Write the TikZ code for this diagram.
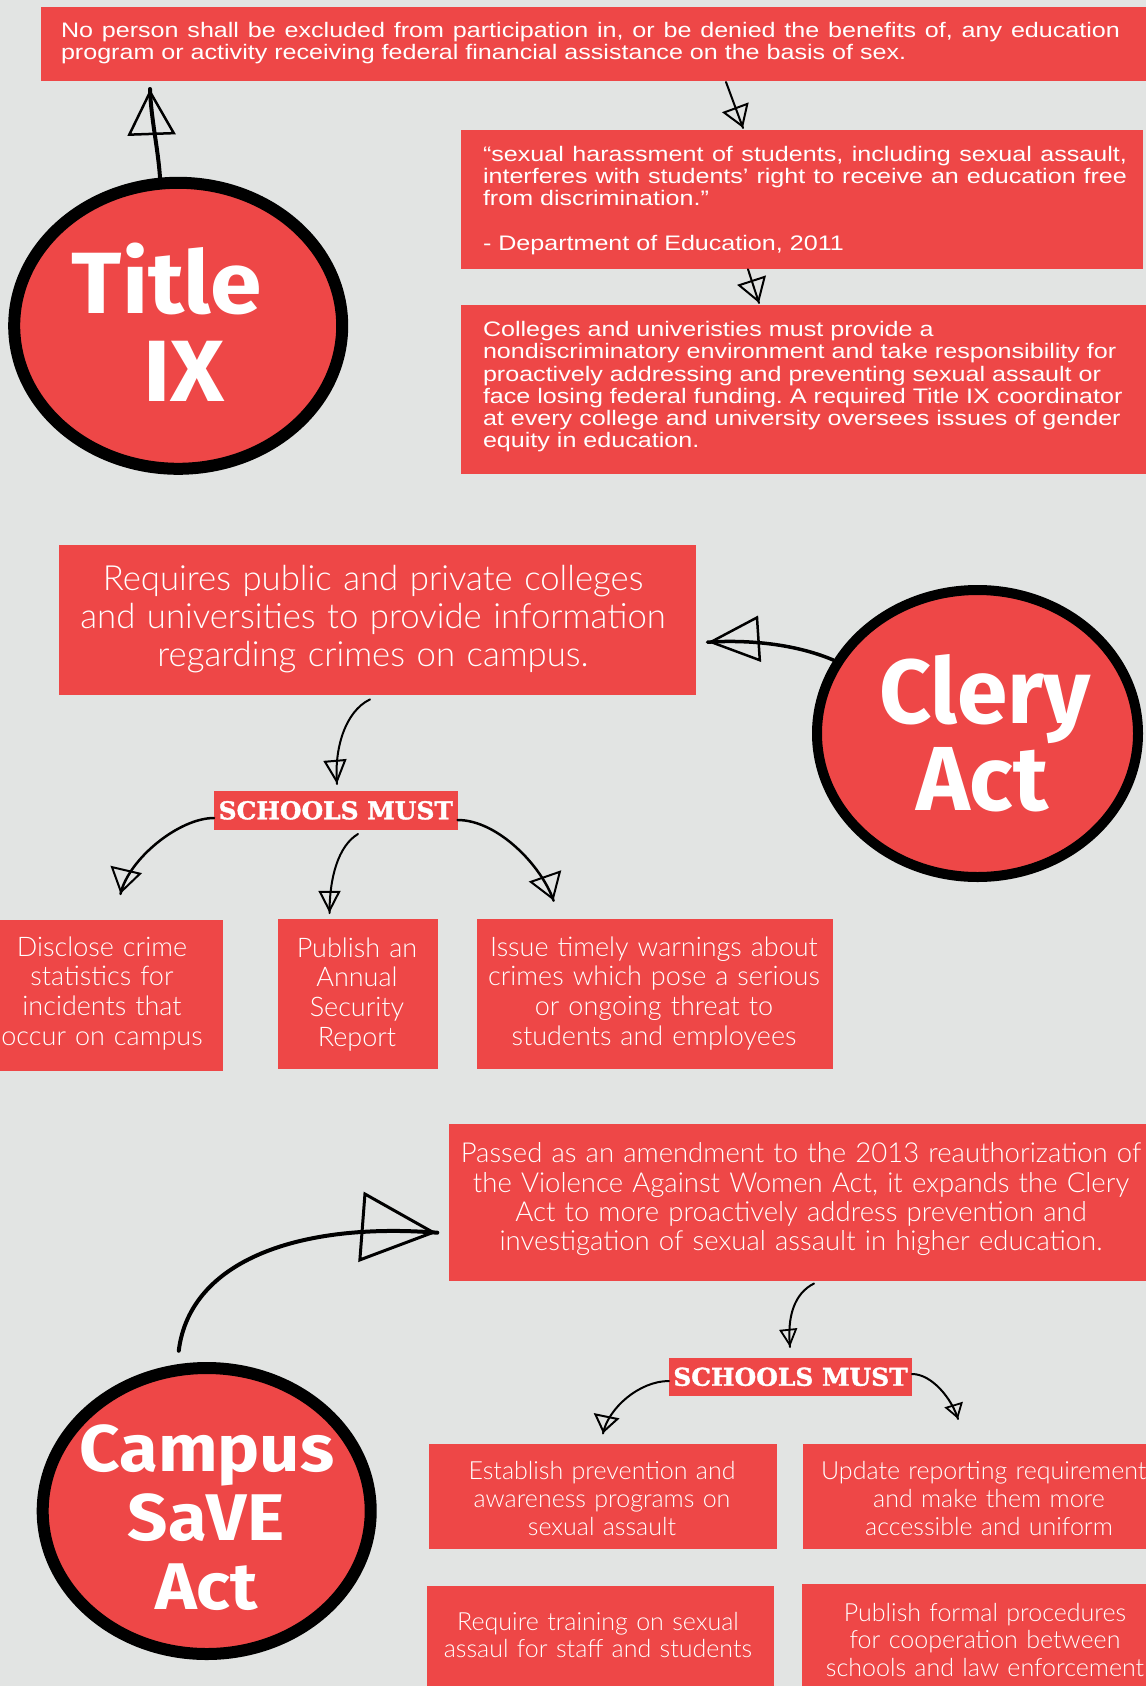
\documentclass[tikz,border=0pt]{standalone}
\usepackage{fontspec}
\usetikzlibrary{arrows.meta,calc,shapes.geometric,decorations.markings}
\newfontfamily\arialf[FakeStretch=1.195]{Liberation Sans}
\IfFontExistsTF{Lato Light}{\newfontfamily\gillf{Lato Light}}{\newfontfamily\gillf{Lato}}
\newfontfamily\circf{Fira Sans}
\newfontfamily\circfw[FakeStretch=1.07]{Fira Sans}
\newfontfamily\slabf[FakeStretch=1.015, BoldFeatures={FakeBold=1.5}]{DejaVu Serif}
\newcommand\myfs[2]{\fontsize{#1}{#2}\selectfont}
\definecolor{bgc}{HTML}{E2E4E3}
\definecolor{boxred}{HTML}{EE4747}
\frenchspacing
\begin{document}
\begin{tikzpicture}[x=1pt,y=-1pt,
  rbox/.style={fill=boxred, draw=none, inner sep=0pt, outer sep=0pt, anchor=north west},
  wt/.style={text=white, inner sep=0pt, outer sep=0pt},
  atxt/.style={wt, font=\arialf\myfs{21}{22.2}\frenchspacing, anchor=base west, align=left},
  gtxt/.style={wt, anchor=base, align=center, text width=760pt},
  smbox/.style={rbox, text=white, font=\slabf\bfseries\myfs{24.5}{24.5}},
  circ/.style={ellipse, draw=black, fill=boxred, inner sep=0pt},
  ctxt/.style={wt, anchor=base},
  hand/.style={draw=black, line cap=round, line join=round},
  withhead/.style={postaction={decorate, decoration={markings, mark=at position 0.998 with {\arrow{#1}}}}}
]
\useasboundingbox (0,0) rectangle (1146,1686);
\fill[bgc] (0,0) rectangle (1146,1686);

% ---------- Title IX ----------
\node[rbox, minimum width=1105pt, minimum height=73.5pt] (law) at (41,7.5) {};
\node[atxt, text width=1059pt, align=justify] (lawt) at (61,37.6)
  {No person shall be excluded from participation in, or be denied the benefits of, any education\linebreak program or activity receiving federal financial assistance on the basis of sex.};

\node[rbox, minimum width=682pt, minimum height=139.3pt] (quote) at (461,130) {};
\node[atxt, text width=644pt, align=justify] (quotet) at (483,161)
  {“sexual harassment of students, including sexual assault,\linebreak
   interferes with students’ right to receive an education free\linebreak
   from discrimination.”\\[22.5pt]
   - Department of Education, 2011};

\node[rbox, minimum width=685pt, minimum height=169pt] (third) at (461,305) {};
\node[atxt, text width=680pt] (thirdt) at (483,336.7)
  {Colleges and univeristies must provide a\\
   nondiscriminatory environment and take responsibility for\\
   proactively addressing and preventing sexual assault or\\
   face losing federal funding. A required Title IX coordinator\\
   at every college and university oversees issues of gender\\
   equity in education.};

\node[circ, line width=12pt, minimum width=328pt, minimum height=286pt] (t9) at (178.2,325.8) {};
\node[ctxt, font=\circfw\bfseries\myfs{87}{87}] (t9a) at (167,313.3) {Title};
\node[ctxt, font=\circfw\bfseries\myfs{87}{87}] (t9b) at (184,401.7) {IX};

% ---------- Clery Act ----------
\node[rbox, minimum width=636.5pt, minimum height=150.4pt] (clbox) at (59,545) {};
\node[gtxt, font=\gillf\myfs{34.7}{38}] (clt) at (373,590)
  {Requires public and private colleges\\ and universities to provide information\\ regarding crimes on campus.};

\node[circ, line width=10pt, minimum width=321pt, minimum height=287pt] (cl) at (977.5,733.5) {};
\node[ctxt, font=\circf\bfseries\myfs{91}{91}] (cla) at (985,723) {Clery};
\node[ctxt, font=\circf\bfseries\myfs{91}{91}] (clb) at (982.5,810) {Act};

\node[smbox, minimum width=243.6pt, minimum height=39.3pt] (sm1) at (214,790.7) {SCHOOLS MUST};

\node[rbox, minimum width=223pt, minimum height=151pt] (b1) at (0,920) {};
\node[rbox, minimum width=160pt, minimum height=150pt] (b2) at (278,919) {};
\node[rbox, minimum width=356pt, minimum height=150pt] (b3) at (476.8,919.3) {};
\node[gtxt, font=\gillf\myfs{27}{29.7}] (b1t) at (102,956) {Disclose crime\\ statistics for\\ incidents that\\ occur on campus};
\node[gtxt, font=\gillf\myfs{27}{29.7}] (b2t) at (357,957) {Publish an\\ Annual\\ Security\\ Report};
\node[gtxt, font=\gillf\myfs{27}{29.7}] (b3t) at (654,956) {Issue timely warnings about\\ crimes which pose a serious\\ or ongoing threat to\\ students and employees};

% ---------- Campus SaVE Act ----------
\node[rbox, minimum width=697pt, minimum height=157pt] (svbox) at (449,1124) {};
\node[gtxt, font=\gillf\myfs{27.5}{29.3}] (svt) at (801,1162.7)
  {Passed as an amendment to the 2013 reauthorization of\\ the Violence Against Women Act, it expands the Clery\\ Act to more proactively address prevention and\\ investigation of sexual assault in higher education.};

\node[circ, line width=12pt, minimum width=328pt, minimum height=286pt] (sv) at (206.7,1511) {};
\node[ctxt, font=\circfw\bfseries\myfs{66}{66}] (sva) at (207,1471) {Campus};
\node[ctxt, font=\circfw\bfseries\myfs{66}{66}] (svb) at (206,1540) {SaVE};
\node[ctxt, font=\circfw\bfseries\myfs{66}{66}] (svc) at (206.5,1609) {Act};

\node[smbox, minimum width=243pt, minimum height=37.6pt] (sm2) at (669,1358) {SCHOOLS MUST};

\node[rbox, minimum width=348pt, minimum height=105pt] (e1) at (429,1444) {};
\node[rbox, minimum width=343pt, minimum height=105pt] (e2) at (803,1444) {};
\node[rbox, minimum width=347.5pt, minimum height=100pt] (e3) at (426.5,1586) {};
\node[rbox, minimum width=344pt, minimum height=102pt] (e4) at (802,1584) {};
\node[gtxt, font=\gillf\myfs{25}{27.8}] (e1t) at (602,1479.5) {Establish prevention and\\ awareness programs on\\ sexual assault};
\node[gtxt, font=\gillf\myfs{25}{27.8}] (e2t) at (989,1479.5) {Update reporting requirements\\ and make them more\\ accessible and uniform};
\node[gtxt, font=\gillf\myfs{25}{27.8}] (e3t) at (598,1630) {Require training on sexual\\ assaul for staff and students};
\node[gtxt, font=\gillf\myfs{25}{27.5}] (e4t) at (985,1621) {Publish formal procedures\\ for cooperation between\\ schools and law enforcement};

% ---------- connectors ----------
% Title IX
\draw[hand, line width=4pt, withhead={Triangle[open, length=46pt, width=48pt, line width=2.5pt]}]
  (t9.97) .. controls +(-2,-30) and +(1,30) .. ($(law.south west)+(109,8)$);
\draw[hand, line width=2pt, withhead={Triangle[open, length=22pt, width=28pt, line width=2pt]}]
  ($(law.south west)+(685,1)$) -- ($(quote.north west)+(282,-2)$);
\draw[hand, line width=2pt, withhead={Triangle[open, length=24pt, width=30pt, line width=2pt]}]
  ($(quote.south west)+(287,0)$) -- ($(third.north west)+(298,-2)$);
% Clery
\draw[hand, line width=3.5pt, withhead={Triangle[open, length=52pt, width=46pt, line width=2.5pt]}]
  (cl.153) .. controls +(-35,-15) and +(45,-3) .. ($(clbox.east)+(12,22)$);
\draw[hand, line width=2pt, withhead={Triangle[open, length=24pt, width=23pt, line width=2pt]}]
  ($(clbox.south west)+(311,4)$) .. controls +(-25,12) and +(-3,-35) .. ($(sm1.north west)+(123,-6.7)$);
\draw[hand, line width=2.5pt, withhead={Triangle[open, length=25pt, width=32pt, line width=2pt]}]
  ($(sm1.south west)+(0,-12)$) .. controls +(-35,0) and +(8,-35) .. ($(b1.north west)+(120.5,-26)$);
\draw[hand, line width=2pt, withhead={Triangle[open, length=22pt, width=22pt, line width=2pt]}]
  ($(sm1.south west)+(144,4)$) .. controls +(-20,12) and +(0,-35) .. ($(b2.north west)+(51.5,-6)$);
\draw[hand, line width=2.5pt, withhead={Triangle[open, length=26pt, width=34pt, line width=2pt]}]
  ($(sm1.north east)+(0,29.3)$) .. controls +(40,0) and +(-12,-35) .. ($(b3.north west)+(76.8,-18.6)$);
% Campus SaVE
\draw[hand, line width=4pt, withhead={Triangle[open, length=76pt, width=70pt, line width=3pt]}]
  ($(sv.100)+(-2,-13)$) .. controls (190,1260) and (300,1222) .. ($(svbox.north west)+(-11.7,108.7)$);
\draw[hand, line width=2pt, withhead={Triangle[open, length=18pt, width=18pt, line width=1.8pt]}]
  ($(svbox.south west)+(365,2.5)$) .. controls +(-20,10) and +(-3,-30) .. ($(sm2.north west)+(121,-11)$);
\draw[hand, line width=2pt, withhead={Triangle[open, length=18pt, width=26pt, line width=2pt]}]
  ($(sm2.south west)+(0,-14.6)$) .. controls +(-30,0) and +(5,-25) .. ($(e1.north west)+(174,-10.5)$);
\draw[hand, line width=2pt, withhead={Triangle[open, length=15pt, width=19pt, line width=1.8pt]}]
  ($(sm2.north east)+(0,16)$) .. controls +(20,0) and +(-6,-20) .. ($(e2.north west)+(155,-25)$);
\end{tikzpicture}
\end{document}
